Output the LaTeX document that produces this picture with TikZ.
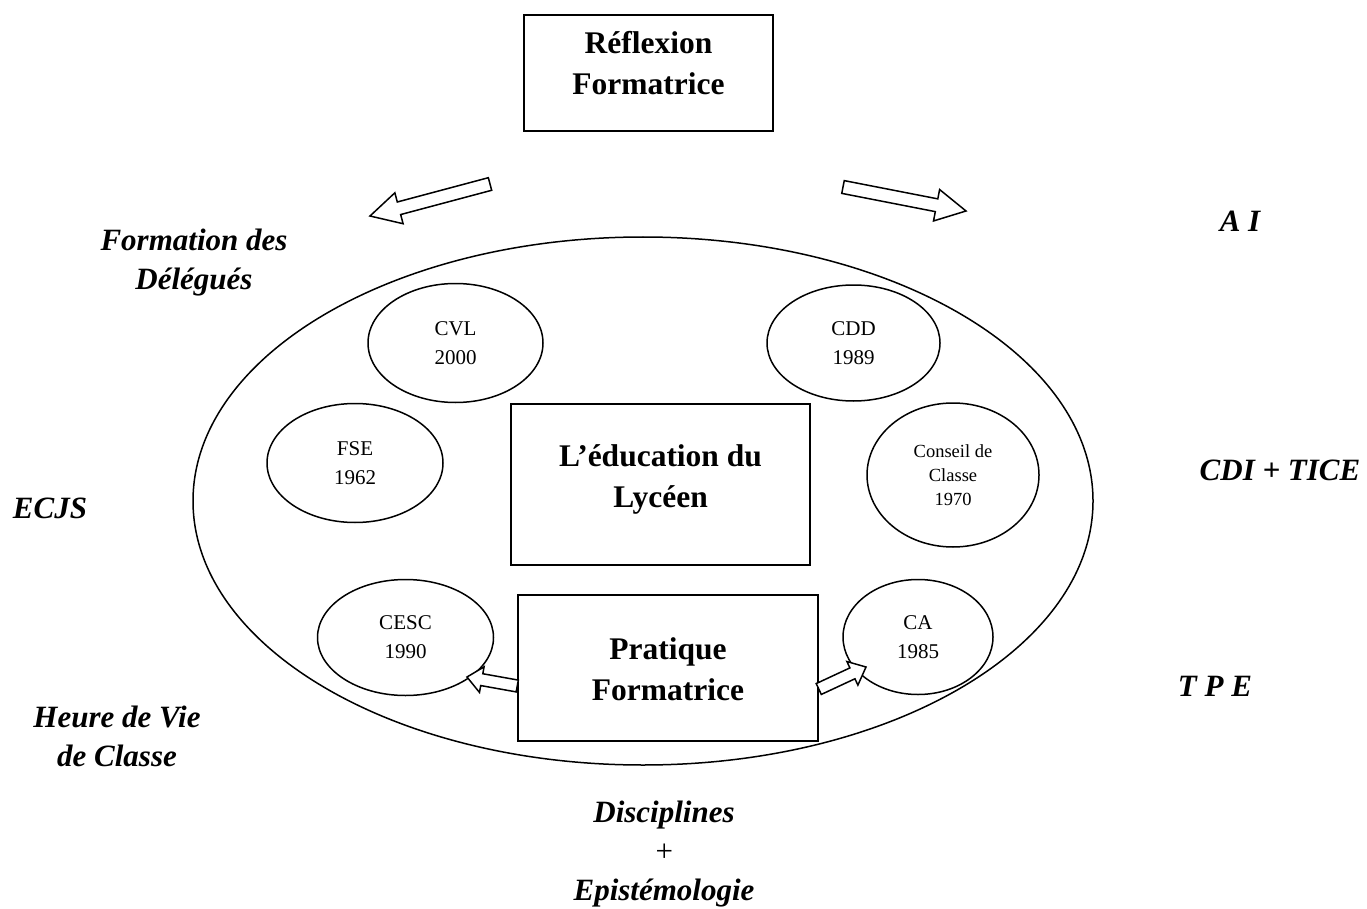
\documentclass[tikz,border=0pt]{standalone}
\usepackage{fontspec}
\setmainfont{Liberation Serif}
\usetikzlibrary{shapes.geometric,calc}
\tikzset{
  line/.style={line width=1.5pt},
  boxnode/.style={line, draw, rectangle, inner sep=0pt},
  boxtext/.style={align=center, inner sep=0pt, font=\fontsize{31.5}{41}\selectfont\bfseries},
  smallell/.style={line, draw, ellipse, inner sep=0pt, align=center, font=\fontsize{21}{29}\selectfont},
  lbl/.style={align=center, inner sep=0pt, font=\fontsize{31}{39}\selectfont\bfseries\itshape},
  arrowline/.style={line, draw, fill=white, line join=miter}
}
\newcommand{\hollowarr}[5]{% tail, tip, half shaft, half head, head length
  \coordinate (#1#2c) at ($(#2)!#5!(#1)$);
  \draw[arrowline] ($(#1)!#3!90:(#2)$) -- ($(#1#2c)!#3!90:(#2)$) -- ($(#1#2c)!#4!90:(#2)$) -- (#2)
    -- ($(#1#2c)!#4!-90:(#2)$) -- ($(#1#2c)!#3!-90:(#2)$) -- ($(#1)!#3!-90:(#2)$) -- cycle;
}
\begin{document}
\begin{tikzpicture}[x=1pt,y=-1pt]
\useasboundingbox (0,0) rectangle (1367,909);
% big ellipse
\node[line, draw, ellipse, minimum width=900pt, minimum height=528pt, inner sep=0pt] (big) at (643,501) {};
% boxes
\node[boxnode, minimum width=249pt, minimum height=116pt] (refl) at (648.5,73) {};
\node[boxtext] (refltxt) at (648.5,63) {R\'eflexion\\Formatrice};
\node[boxnode, minimum width=299pt, minimum height=161pt] (educ) at (660.5,484.5) {};
\node[boxtext] (eductxt) at (660.5,479) {L’\'education du\\Lyc\'een};
\node[boxnode, minimum width=300pt, minimum height=146pt] (prat) at (668,668) {};
\node[boxtext] (prattxt) at (668,669) {Pratique\\Formatrice};
% small ellipses
\node[smallell, minimum width=175pt, minimum height=119pt] (cvl) at (455.5,343) {CVL\\2000};
\node[smallell, minimum width=173pt, minimum height=116pt] (cdd) at (853.5,343) {CDD\\1989};
\node[smallell, minimum width=176pt, minimum height=119pt] (fse) at (355,463) {FSE\\1962};
\node[smallell, minimum width=172pt, minimum height=144pt, font=\fontsize{18.5}{24}\selectfont] (cc) at (953,475) {Conseil de\\Classe\\1970};
\node[smallell, minimum width=176pt, minimum height=116pt] (cesc) at (405.5,637.5) {CESC\\1990};
\node[smallell, minimum width=150pt, minimum height=115pt] (ca) at (918,637) {CA\\1985};
% labels
\node[lbl] (fd) at (194,263) {Formation des\\D\'el\'egu\'es};
\node[lbl] (ai) at (1240,221) {A I};
\node[lbl] (ecjs) at (50,508) {ECJS};
\node[lbl] (cdi) at (1280,470) {CDI + TICE};
\node[lbl] (tpe) at (1215,686) {T P E};
\node[lbl] (hvc) at (117,736) {Heure de Vie\\de Classe};
\node[lbl] (disc) at (664,854) {Disciplines\\{\normalfont\itshape +}\\Epist\'emologie};
% arrow endpoints
\coordinate (la) at (490,184);
\coordinate (lb) at (370,216);
\coordinate (ra) at (843,187);
\coordinate (rb) at (966,211);
\coordinate (ca1) at (prat.west |- 0,686);
\coordinate (cb1) at (467,677);
\coordinate (ca2) at (prat.east |- 0,689);
\coordinate (cb2) at (866,667);
\hollowarr{la}{lb}{6.5pt}{16pt}{30pt}
\hollowarr{ra}{rb}{6.5pt}{16pt}{30pt}
\hollowarr{ca1}{cb1}{6pt}{13pt}{15pt}
\hollowarr{ca2}{cb2}{6pt}{13pt}{15pt}
\end{tikzpicture}
\end{document}
